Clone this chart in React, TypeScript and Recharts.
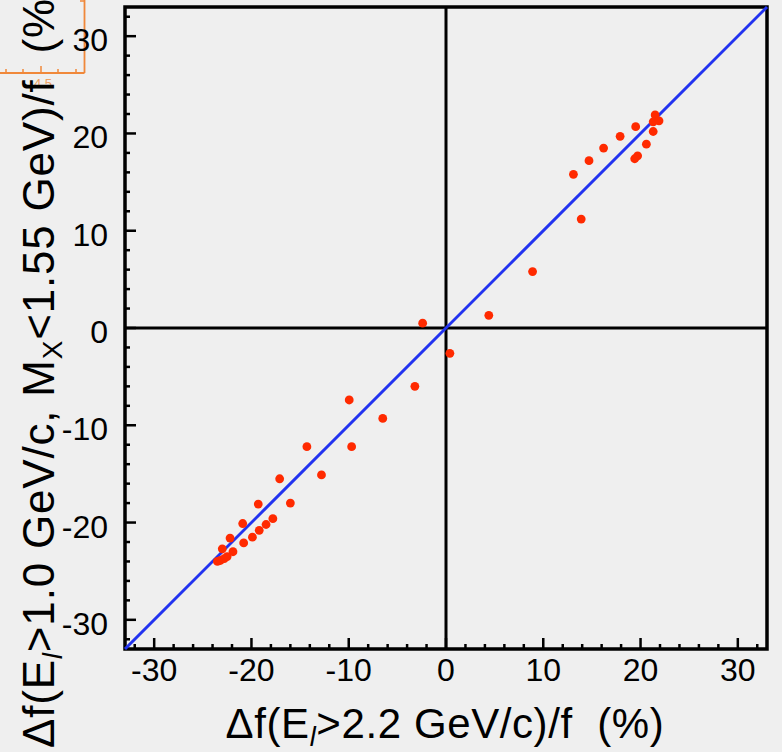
import React from 'react';
import { ScatterChart, Scatter, XAxis, YAxis, ReferenceLine, ReferenceArea } from 'recharts';

const xValues = [
  13.1, 14.7, 16.2, 17.9, 19.5, 21.5, 21.3, 21.9, 21.3, 20.6, 19.7, 19.4, 13.9,
  8.9, 4.4, -2.4, 0.4, -3.2, -6.5, -9.95, -9.7, -14.3, -12.8,
  -17.1, -16.0, -19.3, -17.8, -18.5, -20.9, -19.2, -19.9, -20.8, -22.2, -21.9, -23.0, -22.5, -22.8, -23.2, -23.5,
];
const yValues = [
  15.8, 17.2, 18.5, 19.7, 20.7, 21.9, 21.2, 21.3, 20.2, 18.9, 17.7, 17.4, 11.2,
  5.8, 1.3, 0.5, -2.6, -6.0, -9.3, -7.4, -12.2, -12.2, -15.1,
  -15.5, -18.0, -18.1, -19.6, -20.2, -20.1, -20.8, -21.5, -22.1, -21.6, -23.0, -22.7, -23.5, -23.7, -23.9, -24.0,
];
const axisDomain = [-33, 33];
const diagonal = [{ x: -33, y: -33 }, { x: 33, y: 33 }];
const majorTicks = [-30, -20, -10, 0, 10, 20, 30];
const allTicks = [-32, -30, -28, -26, -24, -22, -20, -18, -16, -14, -12, -10, -8, -6, -4, -2, 0, 2, 4, 6, 8, 10, 12, 14, 16, 18, 20, 22, 24, 26, 28, 30, 32];
const insetTicks = [6, 23, 41, 58, 76];

const data = xValues.map((x, i) => ({ x, y: yValues[i] }));

const FONT = '"Liberation Sans", Arial, Helvetica, sans-serif';

const XTick = (props: any) => {
  const { x, y, payload } = props;
  const major = majorTicks.includes(payload.value);
  return (
    <g>
      <line x1={x} y1={y} x2={x} y2={y - (major ? 11 : 5)} stroke="#000" strokeWidth={2.5} />
      {major && (
        <text x={x} y={y + 32} textAnchor="middle" fontSize={32} fontFamily={FONT} fill="#000">
          {payload.value}
        </text>
      )}
    </g>
  );
};

const YTick = (props: any) => {
  const { x, y, payload } = props;
  const major = majorTicks.includes(payload.value);
  return (
    <g>
      <line x1={x} y1={y} x2={x + (major ? 11 : 5)} y2={y} stroke="#000" strokeWidth={2.5} />
      {major && (
        <text x={x - 17} y={y + 15} textAnchor="end" fontSize={32} fontFamily={FONT} fill="#000">
          {payload.value}
        </text>
      )}
    </g>
  );
};

const Dot = (props: any) => <circle cx={props.cx} cy={props.cy} r={4.4} fill="#ff2a00" />;

export default function App() {
  return (
    <div style={{ position: 'absolute', left: 0, top: 0, width: 782, height: 752, background: '#efefef', overflow: 'hidden' }}>
      <svg width={782} height={752} style={{ position: 'absolute', left: 0, top: 0 }}>
        <line x1={0} y1={73} x2={84.5} y2={73} stroke="#f0883a" strokeWidth={1.8} />
        <line x1={84.5} y1={0} x2={84.5} y2={73} stroke="#f0883a" strokeWidth={1.8} />
        <line x1={80} y1={1} x2={84.5} y2={1} stroke="#f0883a" strokeWidth={1.5} />
        {insetTicks.map((t) => (
          <line key={t} x1={t} y1={73} x2={t} y2={t === 41 ? 66 : 69} stroke="#f0883a" strokeWidth={1.5} />
        ))}
        <text x={43} y={88} textAnchor="middle" fontSize={13} fontFamily={FONT} fill="#f0a060">4.5</text>
      </svg>
      <div style={{ position: 'absolute', left: 0, top: 0 }}>
        <ScatterChart width={782} height={752} margin={{ top: 7, right: 15, bottom: 0, left: 0 }}>
          <XAxis
            type="number"
            dataKey="x"
            domain={axisDomain}
            ticks={allTicks}
            interval={0}
            height={103}
            axisLine={false}
            tickLine={false}
            tickSize={0}
            tickMargin={0}
            tick={<XTick />}
            allowDataOverflow
          />
          <YAxis
            type="number"
            dataKey="y"
            domain={axisDomain}
            ticks={allTicks}
            interval={0}
            width={125}
            axisLine={false}
            tickLine={false}
            tickSize={0}
            tickMargin={0}
            tick={<YTick />}
            allowDataOverflow
          />
          <ReferenceArea x1={-33} x2={33} y1={-33} y2={33} fill="none" fillOpacity={0} stroke="#000" strokeWidth={3.5} ifOverflow="visible" />
          <ReferenceLine x={0} stroke="#000" strokeWidth={3} />
          <ReferenceLine y={0} stroke="#000" strokeWidth={3} />
          <ReferenceLine segment={diagonal} stroke="#2233f0" strokeWidth={3} ifOverflow="visible" />
          <Scatter data={data} shape={<Dot />} isAnimationActive={false} />
        </ScatterChart>
      </div>
      <svg width={782} height={752} style={{ position: 'absolute', left: 0, top: 0, pointerEvents: 'none' }}>
        <text x={445} y={738} textAnchor="middle" fontSize={42} letterSpacing={0.6} fontFamily={FONT} fill="#000" style={{ whiteSpace: 'pre' }}>
          Δf(E<tspan fontSize={27} dy={8} fontStyle="italic">l</tspan><tspan dy={-8}>&gt;2.2 GeV/c)/f  (%)</tspan>
        </text>
        <text x={54} y={748} transform="rotate(-90 54 748)" textAnchor="start" fontSize={44} letterSpacing={0.8} fontFamily={FONT} fill="#000" style={{ whiteSpace: 'pre' }}>
          Δf(E<tspan fontSize={28} dy={8} fontStyle="italic">l</tspan><tspan dy={-8}>&gt;1.0 GeV/c, M</tspan><tspan fontSize={28} dy={8}>X</tspan><tspan dy={-8}>&lt;1.55 GeV)/f  (%)</tspan>
        </text>
      </svg>
    </div>
  );
}
